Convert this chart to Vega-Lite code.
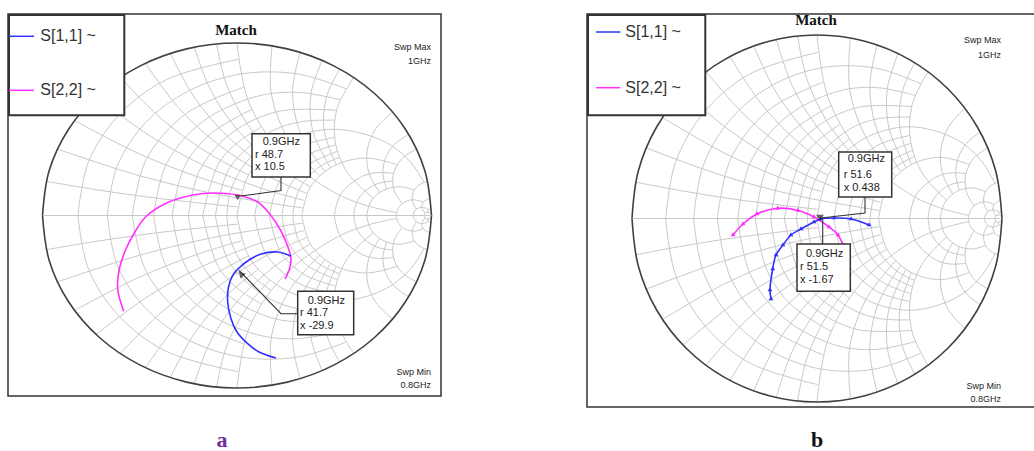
{
"$schema":"https://vega.github.io/schema/vega-lite/v6.json",
"padding":{"left":7,"top":12,"right":0,"bottom":0},
"bounds":"flush",
"spacing":146,
"background":"white",
"config":{"view":{"stroke":"#333","strokeWidth":1.5}},
"datasets":{
"outer":[{"o":0,"x":-1,"y":0},{"o":1,"x":-0.96593,"y":0.25882},{"o":2,"x":-0.86603,"y":0.5},{"o":3,"x":-0.70711,"y":0.70711},{"o":4,"x":-0.5,"y":0.86603},{"o":5,"x":-0.25882,"y":0.96593},{"o":6,"x":0,"y":1},{"o":7,"x":0.25882,"y":0.96593},{"o":8,"x":0.5,"y":0.86603},{"o":9,"x":0.70711,"y":0.70711},{"o":10,"x":0.86603,"y":0.5},{"o":11,"x":0.96593,"y":0.25882},{"o":12,"x":1,"y":0}],
"grid":[
{"i":"ax","o":0,"x":-1,"y":0},{"i":"ax","o":1,"x":1,"y":0},
{"i":"r01","o":0,"x":-0.81818,"y":0},{"i":"r01","o":1,"x":-0.76336,"y":0.31093},{"i":"r01","o":2,"x":-0.60549,"y":0.58435},{"i":"r01","o":3,"x":-0.36364,"y":0.7873},{"i":"r01","o":4,"x":0.00452,"y":0.90498},
{"i":"r02","o":0,"x":-0.66667,"y":0},{"i":"r02","o":1,"x":-0.61641,"y":0.28502},{"i":"r02","o":2,"x":-0.4717,"y":0.53566},{"i":"r02","o":3,"x":-0.25,"y":0.72169},{"i":"r02","o":4,"x":0.02196,"y":0.82067},{"i":"r02","o":5,"x":0.31137,"y":0.82067},{"i":"r02","o":6,"x":0.55882,"y":0.73529},
{"i":"r03","o":0,"x":-0.53846,"y":0},{"i":"r03","o":1,"x":-0.46639,"y":0.32509},{"i":"r03","o":2,"x":-0.26368,"y":0.58927},{"i":"r03","o":3,"x":0.03346,"y":0.74349},
{"i":"r04","o":0,"x":-0.42857,"y":0},{"i":"r04","o":1,"x":-0.36165,"y":0.30187},{"i":"r04","o":2,"x":-0.17342,"y":0.54717},{"i":"r04","o":3,"x":0.10084,"y":0.68995},{"i":"r04","o":4,"x":0.31687,"y":0.71361},{"i":"r04","o":5,"x":0.5302,"y":0.67114},
{"i":"r05","o":0,"x":-0.33333,"y":0},{"i":"r05","o":1,"x":-0.27087,"y":0.28175},{"i":"r05","o":2,"x":-0.13807,"y":0.4714},{"i":"r05","o":3,"x":0.07692,"y":0.61538},
{"i":"r06","o":0,"x":-0.25,"y":0},{"i":"r06","o":1,"x":-0.19144,"y":0.26414},{"i":"r06","o":2,"x":-0.02674,"y":0.47878},{"i":"r06","o":3,"x":0.21324,"y":0.6037},{"i":"r06","o":4,"x":0.5122,"y":0.60976},
{"i":"r07","o":0,"x":-0.17647,"y":0},{"i":"r07","o":1,"x":-0.09766,"y":0.29412},{"i":"r07","o":2,"x":-0.00418,"y":0.41595},{"i":"r07","o":3,"x":0.12596,"y":0.51414},
{"i":"r08","o":0,"x":-0.11111,"y":0},{"i":"r08","o":1,"x":-0.03668,"y":0.27778},{"i":"r08","o":2,"x":0.16667,"y":0.48113},{"i":"r08","o":3,"x":0.32894,"y":0.54342},{"i":"r08","o":4,"x":0.50276,"y":0.55249},
{"i":"r09","o":0,"x":-0.05263,"y":0},{"i":"r09","o":1,"x":-0.0347,"y":0.13622},{"i":"r09","o":2,"x":0.01788,"y":0.26316},{"i":"r09","o":3,"x":0.08876,"y":0.35895},{"i":"r09","o":4,"x":0.1757,"y":0.43384},
{"i":"r10","o":0,"x":0,"y":0},{"i":"r10","o":1,"x":0.06699,"y":0.25},{"i":"r10","o":2,"x":0.25,"y":0.43301},{"i":"r10","o":3,"x":0.5,"y":0.5},{"i":"r10","o":4,"x":0.75,"y":0.43301},{"i":"r10","o":5,"x":0.88302,"y":0.32139},{"i":"r10","o":6,"x":0.96154,"y":0.19231},
{"i":"r12","o":0,"x":0.09091,"y":0},{"i":"r12","o":1,"x":0.15181,"y":0.22727},{"i":"r12","o":2,"x":0.31818,"y":0.39365},{"i":"r12","o":3,"x":0.50226,"y":0.45249},
{"i":"r14","o":0,"x":0.16667,"y":0},{"i":"r14","o":1,"x":0.22249,"y":0.20833},{"i":"r14","o":2,"x":0.34434,"y":0.34131},{"i":"r14","o":3,"x":0.5082,"y":0.40984},
{"i":"r16","o":0,"x":0.23077,"y":0},{"i":"r16","o":1,"x":0.2668,"y":0.16255},{"i":"r16","o":2,"x":0.36816,"y":0.29463},{"i":"r16","o":3,"x":0.51673,"y":0.37175},
{"i":"r18","o":0,"x":0.28571,"y":0},{"i":"r18","o":1,"x":0.31918,"y":0.15094},{"i":"r18","o":2,"x":0.41329,"y":0.27359},{"i":"r18","o":3,"x":0.52703,"y":0.33784},
{"i":"r20","o":0,"x":0.33333,"y":0},{"i":"r20","o":1,"x":0.37799,"y":0.16667},{"i":"r20","o":2,"x":0.5,"y":0.28868},{"i":"r20","o":3,"x":0.66667,"y":0.33333},{"i":"r20","o":4,"x":0.82353,"y":0.29412},
{"i":"r30","o":0,"x":0.5,"y":0},{"i":"r30","o":1,"x":0.53349,"y":0.125},{"i":"r30","o":2,"x":0.64435,"y":0.22658},{"i":"r30","o":3,"x":0.72387,"y":0.24863},{"i":"r30","o":4,"x":0.80488,"y":0.2439},
{"i":"r40","o":0,"x":0.6,"y":0},{"i":"r40","o":1,"x":0.61522,"y":0.07654},{"i":"r40","o":2,"x":0.65858,"y":0.14142},{"i":"r40","o":3,"x":0.72346,"y":0.18478},{"i":"r40","o":4,"x":0.8,"y":0.2},
{"i":"r50","o":0,"x":0.66667,"y":0},{"i":"r50","o":1,"x":0.689,"y":0.08333},{"i":"r50","o":2,"x":0.75,"y":0.14434},{"i":"r50","o":3,"x":0.83333,"y":0.16667},{"i":"r50","o":4,"x":0.91176,"y":0.14706},
{"i":"r100","o":0,"x":0.81818,"y":0},{"i":"r100","o":1,"x":0.83036,"y":0.04545},{"i":"r100","o":2,"x":0.86364,"y":0.07873},{"i":"r100","o":3,"x":0.90909,"y":0.09091},{"i":"r100","o":4,"x":0.95777,"y":0.07678},
{"i":"r200","o":0,"x":0.90476,"y":0},{"i":"r200","o":1,"x":0.91871,"y":0.03367},{"i":"r200","o":2,"x":0.95238,"y":0.04762},{"i":"r200","o":3,"x":0.98572,"y":0.034},
{"i":"r500","o":0,"x":0.96078,"y":0},{"i":"r500","o":1,"x":0.96653,"y":0.01387},{"i":"r500","o":2,"x":0.98039,"y":0.01961},{"i":"r500","o":3,"x":0.99426,"y":0.01387},{"i":"r500","o":4,"x":1,"y":0},
{"i":"x01","o":0,"x":-0.9802,"y":0.19802},{"i":"x01","o":1,"x":-0.72608,"y":0.15009},{"i":"x01","o":2,"x":-0.42132,"y":0.10152},{"i":"x01","o":3,"x":0.00249,"y":0.04988},
{"i":"x02","o":0,"x":-0.92308,"y":0.38462},{"i":"x02","o":1,"x":-0.50289,"y":0.23121},{"i":"x02","o":2,"x":-0.09756,"y":0.12195},{"i":"x02","o":3,"x":0.33628,"y":0.04425},
{"i":"x03","o":0,"x":-0.83486,"y":0.55046},{"i":"x03","o":1,"x":-0.51286,"y":0.36309},{"i":"x03","o":2,"x":-0.20755,"y":0.22642},{"i":"x03","o":3,"x":0.022,"y":0.1467},
{"i":"x04","o":0,"x":-0.72414,"y":0.68966},{"i":"x04","o":1,"x":-0.45138,"y":0.46444},{"i":"x04","o":2,"x":-0.17647,"y":0.29412},{"i":"x04","o":3,"x":0.12,"y":0.16},{"i":"x04","o":4,"x":0.34498,"y":0.08734},
{"i":"x05","o":0,"x":-0.6,"y":0.8},{"i":"x05","o":1,"x":-0.37931,"y":0.55172},{"i":"x05","o":2,"x":-0.13879,"y":0.35587},{"i":"x05","o":3,"x":0.05882,"y":0.23529},
{"i":"x06","o":0,"x":-0.47059,"y":0.88235},{"i":"x06","o":1,"x":-0.30039,"y":0.62419},{"i":"x06","o":2,"x":-0.09589,"y":0.41096},{"i":"x06","o":3,"x":0.15385,"y":0.23077},{"i":"x06","o":4,"x":0.35897,"y":0.12821},
{"i":"x07","o":0,"x":-0.34228,"y":0.9396},{"i":"x07","o":1,"x":-0.21803,"y":0.6821},{"i":"x07","o":2,"x":-0.04918,"y":0.45902},{"i":"x07","o":3,"x":0.10913,"y":0.3118},
{"i":"x08","o":0,"x":-0.21951,"y":0.97561},{"i":"x08","o":1,"x":-0.13507,"y":0.72645},{"i":"x08","o":2,"x":0,"y":0.5},{"i":"x08","o":3,"x":0.19708,"y":0.29197},{"i":"x08","o":4,"x":0.37759,"y":0.16598},
{"i":"x09","o":0,"x":-0.10497,"y":0.99448},{"i":"x09","o":1,"x":-0.05374,"y":0.75869},{"i":"x09","o":2,"x":0.05045,"y":0.53412},{"i":"x09","o":3,"x":0.1684,"y":0.37422},
{"i":"x10","o":0,"x":0,"y":1},{"i":"x10","o":1,"x":0.06031,"y":0.65798},{"i":"x10","o":2,"x":0.23396,"y":0.35721},{"i":"x10","o":3,"x":0.5,"y":0.13397},{"i":"x10","o":4,"x":0.65798,"y":0.06031},{"i":"x10","o":5,"x":0.81967,"y":0.01639},
{"i":"x12","o":0,"x":0.18033,"y":0.98361},{"i":"x12","o":1,"x":0.17647,"y":0.70588},{"i":"x12","o":2,"x":0.26471,"y":0.44118},{"i":"x12","o":3,"x":0.42529,"y":0.22989},
{"i":"x14","o":0,"x":0.32432,"y":0.94595},{"i":"x14","o":1,"x":0.28571,"y":0.71429},{"i":"x14","o":2,"x":0.32886,"y":0.4698},{"i":"x14","o":3,"x":0.45255,"y":0.25547},
{"i":"x16","o":0,"x":0.4382,"y":0.89888},{"i":"x16","o":1,"x":0.38053,"y":0.70796},{"i":"x16","o":2,"x":0.39024,"y":0.4878},{"i":"x16","o":3,"x":0.48097,"y":0.27682},
{"i":"x18","o":0,"x":0.5283,"y":0.84906},{"i":"x18","o":1,"x":0.46154,"y":0.69231},{"i":"x18","o":2,"x":0.44751,"y":0.49724},{"i":"x18","o":3,"x":0.5098,"y":0.29412},
{"i":"x20","o":0,"x":0.6,"y":0.8},{"i":"x20","o":1,"x":0.51485,"y":0.62096},{"i":"x20","o":2,"x":0.50487,"y":0.43041},{"i":"x20","o":3,"x":0.56699,"y":0.25},{"i":"x20","o":4,"x":0.7,"y":0.1},
{"i":"x30","o":0,"x":0.8,"y":0.6},{"i":"x30","o":1,"x":0.71132,"y":0.5},{"i":"x30","o":2,"x":0.66915,"y":0.37396},{"i":"x30","o":3,"x":0.67803,"y":0.24706},{"i":"x30","o":4,"x":0.73333,"y":0.13333},
{"i":"x40","o":0,"x":0.88235,"y":0.47059},{"i":"x40","o":1,"x":0.80849,"y":0.4107},{"i":"x40","o":2,"x":0.76362,"y":0.33139},{"i":"x40","o":3,"x":0.75015,"y":0.24128},{"i":"x40","o":4,"x":0.76923,"y":0.15385},
{"i":"x50","o":0,"x":0.92308,"y":0.38462},{"i":"x50","o":1,"x":0.84679,"y":0.32856},{"i":"x50","o":2,"x":0.80437,"y":0.24158},{"i":"x50","o":3,"x":0.80681,"y":0.14824},{"i":"x50","o":4,"x":0.84932,"y":0.06849},
{"i":"x100","o":0,"x":0.9802,"y":0.19802},{"i":"x100","o":1,"x":0.93572,"y":0.1766},{"i":"x100","o":2,"x":0.90603,"y":0.1342},{"i":"x100","o":3,"x":0.90152,"y":0.08264},{"i":"x100","o":4,"x":0.92237,"y":0.03697},
{"i":"x200","o":0,"x":0.99501,"y":0.09975},{"i":"x200","o":1,"x":0.9617,"y":0.08214},{"i":"x200","o":2,"x":0.95,"y":0.05},{"i":"x200","o":3,"x":0.96601,"y":0.01333},
{"i":"x500","o":0,"x":0.9992,"y":0.03998},{"i":"x500","o":1,"x":0.98468,"y":0.03286},{"i":"x500","o":2,"x":0.98,"y":0.0196}
]},
"hconcat":[
{
"width":433,"height":382,
"resolve":{"scale":{"y":"independent"}},
"layer":[
{
"encoding":{
"x":{"field":"x","type":"quantitative","scale":{"domain":[-1.17738,1.04884],"nice":false,"zero":false},"axis":null},
"y":{"field":"y","type":"quantitative","scale":{"domain":[-1.16812,1.04638],"reverse":true,"nice":false,"zero":false},"axis":null}
},
"layer":[
{"data":{"name":"grid"},"mark":{"type":"line","interpolate":"catmull-rom","color":"#c8c8c8","strokeWidth":1},"encoding":{"detail":{"field":"i"},"order":{"field":"o"}}},
{"data":{"name":"outer"},"mark":{"type":"line","interpolate":"catmull-rom","color":"#404040","strokeWidth":1.6},"encoding":{"order":{"field":"o"}}}
]
},
{
"encoding":{
"x":{"field":"x","type":"quantitative","scale":{"domain":[-1.17738,1.04884],"nice":false,"zero":false},"axis":null},
"y":{"field":"y","type":"quantitative","scale":{"domain":[-1.04638,1.16812],"nice":false,"zero":false},"axis":null}
},
"layer":[
{"data":{"name":"grid"},"mark":{"type":"line","interpolate":"catmull-rom","color":"#c8c8c8","strokeWidth":1},"encoding":{"detail":{"field":"i"},"order":{"field":"o"}}},
{"data":{"name":"outer"},"mark":{"type":"line","interpolate":"catmull-rom","color":"#404040","strokeWidth":1.6},"encoding":{"order":{"field":"o"}}},
{"data":{"values":[{"x":-1.1722,"x2":-0.5794,"y":1.1623,"y2":0.5809}]},"mark":{"type":"rect","fill":"white","stroke":"#333","strokeWidth":2},"encoding":{"x2":{"field":"x2"},"y2":{"field":"y2"}}},
{"data":{"values":[{"s":"S11","x":-1.1722,"x2":-1.0437,"y":1.0388},{"s":"S22","x":-1.1722,"x2":-1.0437,"y":0.7258}]},"mark":{"type":"rule","strokeWidth":1.5},"encoding":{"x2":{"field":"x2"},"color":{"field":"s","type":"nominal","scale":{"domain":["S11","S22"],"range":["#3030ff","#ff30ff"]},"legend":null}}},
{"data":{"values":[{"t":"S[1,1] ~","x":-1.0113,"y":1.0388},{"t":"S[2,2] ~","x":-1.0113,"y":0.7258}]},"mark":{"type":"text","align":"left","baseline":"middle","font":"Liberation Sans","fontSize":16,"color":"#333"},"encoding":{"text":{"field":"t"}}},
{"data":{"values":[
{"s":"S22","o":0,"x":-0.5825,"y":-0.5554},{"s":"S22","o":1,"x":-0.6134,"y":-0.4261},{"s":"S22","o":2,"x":-0.6051,"y":-0.3101},{"s":"S22","o":3,"x":-0.5707,"y":-0.1942},{"s":"S22","o":4,"x":-0.528,"y":-0.1014},{"s":"S22","o":5,"x":-0.4679,"y":-0.0058},{"s":"S22","o":6,"x":-0.3563,"y":0.0754},{"s":"S22","o":7,"x":-0.2262,"y":0.1188},{"s":"S22","o":8,"x":-0.1234,"y":0.1304},{"s":"S22","o":9,"x":0,"y":0.1188},{"s":"S22","o":10,"x":0.1064,"y":0.0783},{"s":"S22","o":11,"x":0.1645,"y":0.0145},{"s":"S22","o":12,"x":0.2262,"y":-0.0899},{"s":"S22","o":13,"x":0.2622,"y":-0.1826},{"s":"S22","o":14,"x":0.2776,"y":-0.2493},{"s":"S22","o":15,"x":0.2699,"y":-0.3084},{"s":"S22","o":16,"x":0.2468,"y":-0.3681},
{"s":"S11","o":0,"x":0.2005,"y":-0.8261},{"s":"S11","o":1,"x":0.1131,"y":-0.7913},{"s":"S11","o":2,"x":0.055,"y":-0.7432},{"s":"S11","o":3,"x":0,"y":-0.6754},{"s":"S11","o":4,"x":-0.0308,"y":-0.5983},{"s":"S11","o":5,"x":-0.0478,"y":-0.5014},{"s":"S11","o":6,"x":-0.0437,"y":-0.4145},{"s":"S11","o":7,"x":-0.0221,"y":-0.3467},{"s":"S11","o":8,"x":0.0103,"y":-0.3043},{"s":"S11","o":9,"x":0.0617,"y":-0.258},{"s":"S11","o":10,"x":0.1234,"y":-0.2232},{"s":"S11","o":11,"x":0.2093,"y":-0.2116},{"s":"S11","o":12,"x":0.2776,"y":-0.2348}
]},"mark":{"type":"line","interpolate":"catmull-rom","strokeWidth":1.6},"encoding":{"color":{"field":"s","type":"nominal","scale":{"domain":["S11","S22"],"range":["#3030ff","#ff30ff"]},"legend":null},"order":{"field":"o"}}},
{"data":{"values":[{"i":"a","o":0,"x":0.2262,"y":0.2232},{"i":"a","o":1,"x":0.2262,"y":0.1449},{"i":"a","o":2,"x":0.0206,"y":0.113},{"i":"b","o":0,"x":0.3121,"y":-0.5693},{"i":"b","o":1,"x":0.2262,"y":-0.5693},{"i":"b","o":2,"x":0.0103,"y":-0.3177}]},"mark":{"type":"line","color":"#333","strokeWidth":1.1},"encoding":{"detail":{"field":"i"},"order":{"field":"o"}}},
{"data":{"values":[{"x":0.0771,"x2":0.3769,"y":0.4742,"y2":0.2232},{"x":0.3121,"x2":0.6,"y":-0.4394,"y2":-0.691}]},"mark":{"type":"rect","fill":"white","stroke":"#333","strokeWidth":1.5},"encoding":{"x2":{"field":"x2"},"y2":{"field":"y2"}}},
{"data":{"values":[{"t":"0.9GHz","x":0.1321,"y":0.4243},{"t":"r  48.7","x":0.0925,"y":0.349},{"t":"x  10.5","x":0.0925,"y":0.2812},{"t":"0.9GHz","x":0.3635,"y":-0.4957},{"t":"r  41.7","x":0.3239,"y":-0.5652},{"t":"x  -29.9","x":0.3239,"y":-0.6423}]},"mark":{"type":"text","align":"left","baseline":"middle","font":"Liberation Sans","fontSize":11,"color":"#222"},"encoding":{"text":{"field":"t"}}},
{"data":{"values":[{"x":0.0036,"y":0.1043}]},"mark":{"type":"point","shape":"triangle-down","size":40,"filled":true,"color":"#222"}},
{"data":{"values":[{"x":0.0206,"y":-0.3391}]},"mark":{"type":"point","shape":"triangle-up","angle":-45,"size":50,"filled":true,"color":"#222"}},
{"data":{"values":[{"t":"Swp Max","x":0.9974,"y":0.9768},{"t":"1GHz","x":0.9974,"y":0.8957},{"t":"Swp Min","x":0.9974,"y":-0.9072},{"t":"0.8GHz","x":0.9974,"y":-0.9843}]},"mark":{"type":"text","align":"right","baseline":"middle","font":"Liberation Sans","fontSize":9,"color":"#222"},"encoding":{"text":{"field":"t"}}},
{"data":{"values":[{"t":"Match","x":-0.0051,"y":1.0446}]},"mark":{"type":"text","align":"center","baseline":"alphabetic","font":"Liberation Serif","fontWeight":"bold","fontSize":15,"color":"#111"},"encoding":{"text":{"field":"t"}}},
{"data":{"values":[{"t":"a","x":-0.0771,"y":-1.342}]},"mark":{"type":"text","align":"center","baseline":"alphabetic","font":"Liberation Serif","fontWeight":"bold","fontSize":22,"color":"#7030a0"},"encoding":{"text":{"field":"t"}}}
]
}
]
},
{
"width":449,"height":393,
"resolve":{"scale":{"y":"independent"}},
"layer":[
{
"encoding":{
"x":{"field":"x","type":"quantitative","scale":{"domain":[-1.24324,1.18378],"nice":false,"zero":false},"axis":null},
"y":{"field":"y","type":"quantitative","scale":{"domain":[-1.11444,1.02725],"reverse":true,"nice":false,"zero":false},"axis":null}
},
"layer":[
{"data":{"name":"grid"},"mark":{"type":"line","interpolate":"catmull-rom","color":"#c8c8c8","strokeWidth":1},"encoding":{"detail":{"field":"i"},"order":{"field":"o"}}},
{"data":{"name":"outer"},"mark":{"type":"line","interpolate":"catmull-rom","color":"#404040","strokeWidth":1.6},"encoding":{"order":{"field":"o"}}}
]
},
{
"encoding":{
"x":{"field":"x","type":"quantitative","scale":{"domain":[-1.24324,1.18378],"nice":false,"zero":false},"axis":null},
"y":{"field":"y","type":"quantitative","scale":{"domain":[-1.02725,1.11444],"nice":false,"zero":false},"axis":null}
},
"layer":[
{"data":{"name":"grid"},"mark":{"type":"line","interpolate":"catmull-rom","color":"#c8c8c8","strokeWidth":1},"encoding":{"detail":{"field":"i"},"order":{"field":"o"}}},
{"data":{"name":"outer"},"mark":{"type":"line","interpolate":"catmull-rom","color":"#404040","strokeWidth":1.6},"encoding":{"order":{"field":"o"}}},
{"data":{"values":[{"x":-1.2378,"x2":-0.6038,"y":1.109,"y2":0.5624}]},"mark":{"type":"rect","fill":"white","stroke":"#333","strokeWidth":2},"encoding":{"x2":{"field":"x2"},"y2":{"field":"y2"}}},
{"data":{"values":[{"s":"S11","x":-1.1946,"x2":-1.0632,"y":1.0163},{"s":"S22","x":-1.1946,"x2":-1.0632,"y":0.7128}]},"mark":{"type":"rule","strokeWidth":1.5},"encoding":{"x2":{"field":"x2"},"color":{"field":"s","type":"nominal","scale":{"domain":["S11","S22"],"range":["#3030ff","#ff30ff"]},"legend":null}}},
{"data":{"values":[{"t":"S[1,1] ~","x":-1.0362,"y":1.0163},{"t":"S[2,2] ~","x":-1.0362,"y":0.7128}]},"mark":{"type":"text","align":"left","baseline":"middle","font":"Liberation Sans","fontSize":16,"color":"#333"},"encoding":{"text":{"field":"t"}}},
{"data":{"values":[
{"s":"S22","o":0,"x":-0.4541,"y":-0.0899},{"s":"S22","o":1,"x":-0.4,"y":-0.03},{"s":"S22","o":2,"x":-0.3243,"y":0.0245},{"s":"S22","o":3,"x":-0.2124,"y":0.0556},{"s":"S22","o":4,"x":-0.1027,"y":0.0436},{"s":"S22","o":5,"x":-0.0162,"y":0.0082},{"s":"S22","o":6,"x":0.0649,"y":-0.0463},{"s":"S22","o":7,"x":0.1135,"y":-0.0899},{"s":"S22","o":8,"x":0.1405,"y":-0.1444},
{"s":"S11","o":0,"x":-0.2486,"y":-0.4387},{"s":"S11","o":1,"x":-0.2541,"y":-0.3896},{"s":"S11","o":2,"x":-0.2395,"y":-0.2752},{"s":"S11","o":3,"x":-0.2216,"y":-0.1989},{"s":"S11","o":4,"x":-0.1838,"y":-0.1444},{"s":"S11","o":5,"x":-0.1405,"y":-0.0899},{"s":"S11","o":6,"x":-0.0865,"y":-0.0572},{"s":"S11","o":7,"x":-0.0162,"y":-0.0191},{"s":"S11","o":8,"x":0.0216,"y":-0.0027},{"s":"S11","o":9,"x":0.0919,"y":0.0027},{"s":"S11","o":10,"x":0.1838,"y":-0.0027},{"s":"S11","o":11,"x":0.2811,"y":-0.0354}
]},"mark":{"type":"line","interpolate":"catmull-rom","strokeWidth":1.6,"point":{"shape":"triangle","size":22,"filled":true}},"encoding":{"color":{"field":"s","type":"nominal","scale":{"domain":["S11","S22"],"range":["#3030ff","#ff30ff"]},"legend":null},"order":{"field":"o"}}},
{"data":{"values":[{"i":"a","o":0,"x":0.2595,"y":0.1172},{"i":"a","o":1,"x":0.2595,"y":0.03},{"i":"a","o":2,"x":0.0216,"y":0.0027},{"i":"b","o":0,"x":0.0308,"y":-0.139},{"i":"b","o":1,"x":0.0308,"y":-0.0098}]},"mark":{"type":"line","color":"#333","strokeWidth":1.1},"encoding":{"detail":{"field":"i"},"order":{"field":"o"}}},
{"data":{"values":[{"x":0.1173,"x2":0.4038,"y":0.3624,"y2":0.1172},{"x":-0.1081,"x2":0.18,"y":-0.139,"y2":-0.3967}]},"mark":{"type":"rect","fill":"white","stroke":"#333","strokeWidth":1.5},"encoding":{"x2":{"field":"x2"},"y2":{"field":"y2"}}},
{"data":{"values":[{"t":"0.9GHz","x":0.1659,"y":0.3226},{"t":"r  51.6","x":0.1443,"y":0.2387},{"t":"x 0.438","x":0.1443,"y":0.1678},{"t":"0.9GHz","x":-0.0595,"y":-0.1918},{"t":"r  51.5","x":-0.0919,"y":-0.2643},{"t":"x -1.67","x":-0.0919,"y":-0.3368}]},"mark":{"type":"text","align":"left","baseline":"middle","font":"Liberation Sans","fontSize":11,"color":"#222"},"encoding":{"text":{"field":"t"}}},
{"data":{"values":[{"x":0.0162,"y":0.0027}]},"mark":{"type":"point","shape":"triangle-down","size":60,"filled":true,"color":"#222"}},
{"data":{"values":[{"t":"Swp Max","x":0.9946,"y":0.9711},{"t":"1GHz","x":0.9946,"y":0.8926},{"t":"Swp Min","x":0.9946,"y":-0.9144},{"t":"0.8GHz","x":0.9946,"y":-0.9853}]},"mark":{"type":"text","align":"right","baseline":"middle","font":"Liberation Sans","fontSize":9,"color":"#222"},"encoding":{"text":{"field":"t"}}},
{"data":{"values":[{"t":"Match","x":-0.0054,"y":1.0529}]},"mark":{"type":"text","align":"center","baseline":"alphabetic","font":"Liberation Serif","fontWeight":"bold","fontSize":15,"color":"#111"},"encoding":{"text":{"field":"t"}}},
{"data":{"values":[{"t":"b","x":0,"y":-1.2452}]},"mark":{"type":"text","align":"center","baseline":"alphabetic","font":"Liberation Serif","fontWeight":"bold","fontSize":22,"color":"#111"},"encoding":{"text":{"field":"t"}}}
]
}
]
}
]
}
